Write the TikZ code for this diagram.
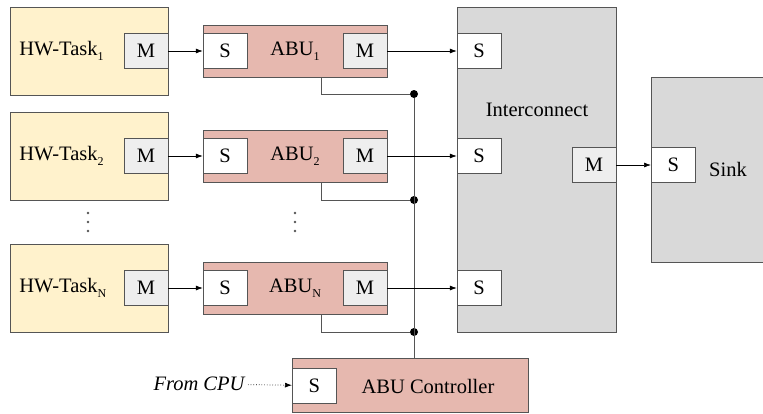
\documentclass[tikz,border=0pt]{standalone}
\usepackage{fontspec}
\setmainfont{Liberation Serif}
\usetikzlibrary{positioning, arrows.meta}

\definecolor{taskyellow}{HTML}{FFF2CC}
\definecolor{aburose}{HTML}{E6B8AF}
\definecolor{icgray}{HTML}{D9D9D9}
\definecolor{portgray}{HTML}{EEEEEE}
\definecolor{edgegray}{HTML}{555555}

% lowered index as in the figure
\newcommand{\idx}[1]{\raisebox{-5.5pt}{\fontsize{12}{12}\selectfont #1}}

\begin{document}
\begin{tikzpicture}[
    x=1pt, y=1pt,
    font=\fontsize{20.5}{24}\selectfont,
    % Define custom styles for the blocks
    taskbox/.style={
        draw=edgegray,
        fill=taskyellow,
        rectangle,
        minimum width=158pt,
        minimum height=88pt
    },
    abubox/.style={
        draw=edgegray,
        fill=aburose,
        rectangle,
        minimum width=184pt,
        minimum height=52pt
    },
    graybox/.style={draw=edgegray, fill=icgray, rectangle},
    sport/.style={draw=edgegray, fill=white, minimum width=44pt, minimum height=35pt, inner sep=0pt},
    mport/.style={sport, fill=portgray},
    link/.style={-{Latex[length=7pt,width=5pt]}, line width=0.7pt},
    ctrl/.style={edgegray, line width=1pt},
    joint/.style={circle, fill=black, inner sep=0pt, minimum size=8pt},
    dot/.style={circle, fill=edgegray, inner sep=0pt, minimum size=2.6pt}
]
\clip (0,0) rectangle (763,-413);

% Interconnect and sink
\node[graybox, minimum width=159pt, minimum height=325pt] (ic) at (536.5,-169.5) {};
\node at (537,-110) (iclabel) {Interconnect};
\node[graybox, minimum width=130pt, minimum height=185pt, anchor=north west] (sink) at (651,-77) {};
\node at (728,-169) (sinklabel) {Sink};

\node[sport, anchor=west] (ics1) at (ic.west |- 0,-51) {S};
\node[sport, anchor=west] (ics2) at (ic.west |- 0,-156) {S};
\node[sport, anchor=west] (icsn) at (ic.west |- 0,-288) {S};
\node[mport, anchor=east] (icm) at (ic.east |- 0,-165) {M};
\node[sport, anchor=west] (sinks) at (sink.west |- icm) {S};

% HW tasks and ABUs, one row each
\foreach \i/\y/\s in {1/-51/1, 2/-156/2, n/-288/N}{
    \node[taskbox] (task\i) at (89,\y) {};
    \node[anchor=west] (tasklabel\i) at ([xshift=6pt]task\i.west) {HW-Task\idx{\s}};
    \node[mport, anchor=east] (taskm\i) at (task\i.east) {M};
    \node[abubox] (abu\i) at (295,\y) {};
    \node (abulabel\i) at (abu\i) {ABU\idx{\s}};
    \node[sport, anchor=west] (abus\i) at (abu\i.west) {S};
    \node[mport, anchor=east] (abum\i) at (abu\i.east) {M};
}

% Vertical dots
\foreach \y [count=\k] in {-213,-222,-231}{
    \node[dot] (dt\k) at (88,\y) {};
    \node[dot] (da\k) at (295,\y) {};
}

% ABU controller
\node[abubox, minimum width=236pt, minimum height=54pt, anchor=north west] (ctl) at (292,-358) {};
\node (ctllabel) at (428,-386) {ABU Controller};
\node[sport, anchor=west] (ctls) at (ctl.west |- 0,-385.5) {S};
\node[anchor=east, font=\fontsize{20.5}{24}\selectfont\itshape] (cpu) at (248,-384) {From CPU};

% Control bus
\node[joint] (j1) at (414,-94) {};
\node[joint] (j2) at (414,-200) {};
\node[joint] (jn) at (414,-332) {};
\draw[ctrl] (j1) -- (ctl.north -| j1);
\draw[ctrl] ([xshift=26pt]abu1.south) |- (j1);
\draw[ctrl] ([xshift=26pt]abu2.south) |- (j2);
\draw[ctrl] ([xshift=26pt]abun.south) |- (jn);

% Data links
\draw[link] (taskm1) -- (abus1);
\draw[link] (taskm2) -- (abus2);
\draw[link] (taskmn) -- (abusn);
\draw[link] (abum1) -- (ics1);
\draw[link] (abum2) -- (ics2);
\draw[link] (abumn) -- (icsn);
\draw[link] (icm) -- (sinks);
\draw[link, dotted] (cpu) -- (ctls);

\end{tikzpicture}
\end{document}
